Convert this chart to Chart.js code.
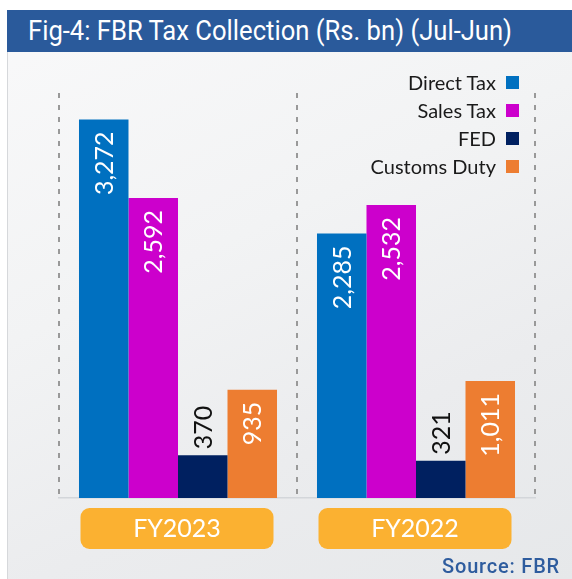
<!DOCTYPE html>
<html>
<head>
<meta charset="utf-8">
<script src="https://cdn.jsdelivr.net/npm/chart.js@4"></script>
<style>
  html, body { margin: 0; padding: 0; background: #ffffff; }
  #wrap { position: relative; width: 572px; height: 579px; overflow: hidden; }
  #panel {
    position: absolute; left: 7px; top: 10px; right: 0; bottom: 0;
    background: linear-gradient(155deg, #f9f9fa 0%, #f2f3f4 40%, #ebecee 70%, #e6e8ea 100%);
    border-left: 1px solid #d6d8db;
  }
  #title {
    position: absolute; left: 7px; top: 10px; width: 565px; height: 42px;
    background: #2a5a9b;
  }
  #titleText {
    position: absolute; left: 21px; top: 0; line-height: 42px;
    font-family: Roboto, sans-serif; font-size: 28px; color: #ffffff;
    white-space: nowrap; transform-origin: left center;
  }
  #chart { position: absolute; left: 0; top: 0; }
  #legend { position: absolute; right: 53px; top: 68px; font-family: Lato, sans-serif; font-size: 20px; color: #1a1a1a; }
  .item { display: flex; justify-content: flex-end; align-items: center; height: 28px; }
  .box { width: 13px; height: 13px; margin-left: 10px; }
  #source {
    position: absolute; right: 12px; top: 554px; letter-spacing: 0.8px;
    font-family: Roboto, sans-serif; font-size: 20px; font-weight: 500; color: #2e5c9e;
  }
</style>
</head>
<body>
<div id="wrap">
  <div id="panel"></div>
  <div id="title"><span id="titleText">Fig-4: FBR Tax Collection (Rs. bn) (Jul-Jun)</span></div>
  <canvas id="chart" width="572" height="579"></canvas>
  <div id="legend"></div>
  <div id="source">Source: FBR</div>
</div>
<script>
// chart data
const years = ["FY2023", "FY2022"];
const seriesNames = ["Direct Tax", "Sales Tax", "FED", "Customs Duty"];
const seriesColors = ["#0070c0", "#cc00cc", "#002060", "#ed7d31"];
const directTax = [3272, 2285];
const salesTax = [2592, 2532];
const fed = [370, 321];
const customsDuty = [935, 1011];

// squeeze the title so it fits like the condensed font in the original
const titleSpan = document.getElementById("titleText");
titleSpan.style.transform = "scaleX(" + (484 / titleSpan.getBoundingClientRect().width) + ")";

// rotated value labels on the bars
const barLabels = {
  id: "barLabels",
  afterDatasetsDraw(chart) {
    const ctx = chart.ctx;
    ctx.save();
    ctx.font = "25px Lato, sans-serif";
    ctx.textBaseline = "middle";
    chart.data.datasets.forEach((ds, di) => {
      chart.getDatasetMeta(di).data.forEach((bar, i) => {
        const text = ds.data[i].toLocaleString("en-US");
        const w = ctx.measureText(text).width;
        const h = bar.base - bar.y;
        ctx.save();
        if (h > w + 20) {
          // inside the bar, reading upwards
          ctx.translate(bar.x, bar.y + 12);
          ctx.rotate(-Math.PI / 2);
          ctx.textAlign = "right";
          ctx.fillStyle = "#ffffff";
        } else {
          // short bar: put it above
          ctx.translate(bar.x, bar.y - 6);
          ctx.rotate(-Math.PI / 2);
          ctx.textAlign = "left";
          ctx.fillStyle = "#111111";
        }
        ctx.fillText(text, 0, 1);
        ctx.restore();
      });
    });
    ctx.restore();
  }
};

// orange category badges under each group
const yearBadges = {
  id: "yearBadges",
  afterDraw(chart) {
    const ctx = chart.ctx;
    const x = chart.scales.x;
    ctx.save();
    chart.data.labels.forEach((label, i) => {
      const cx = x.getPixelForValue(i) - 1;
      ctx.fillStyle = "#fbb131";
      ctx.beginPath();
      ctx.roundRect(cx - 96.5, 508, 193, 41, 9);
      ctx.fill();
      ctx.fillStyle = "#ffffff";
      ctx.font = "25px Lato, sans-serif";
      ctx.textAlign = "center";
      ctx.textBaseline = "middle";
      ctx.fillText(label, cx, 529);
    });
    ctx.restore();
  }
};

const allValues = [directTax, salesTax, fed, customsDuty];

const chart = new Chart(document.getElementById("chart"), {
  type: "bar",
  data: {
    labels: years,
    datasets: seriesNames.map((name, i) => ({
      label: name,
      data: allValues[i],
      backgroundColor: seriesColors[i],
      categoryPercentage: 0.832,
      barPercentage: 1
    }))
  },
  options: {
    responsive: false,
    animation: false,
    devicePixelRatio: 1,
    layout: { padding: { left: 59, right: 37, top: 93, bottom: 81 } },
    plugins: { legend: { display: false }, tooltip: { enabled: false } },
    scales: {
      x: {
        display: true,
        ticks: { display: false },
        grid: {
          offset: true,
          drawTicks: false,
          color: "#999999",
          lineWidth: 2
        },
        // in v4 the grid line dash comes from border.dash
        border: { display: true, color: "#d3d6da", width: 1.5, dash: [5, 7] }
      },
      y: {
        display: false,
        min: 0,
        max: 3500
      }
    }
  },
  plugins: [barLabels, yearBadges]
});

// legend on the right, text then colour square
const legend = document.getElementById("legend");
chart.data.datasets.forEach(ds => {
  const item = document.createElement("div");
  item.className = "item";
  item.innerHTML = `<span>${ds.label}</span><span class="box" style="background:${ds.backgroundColor}"></span>`;
  legend.appendChild(item);
});
</script>
</body>
</html>
